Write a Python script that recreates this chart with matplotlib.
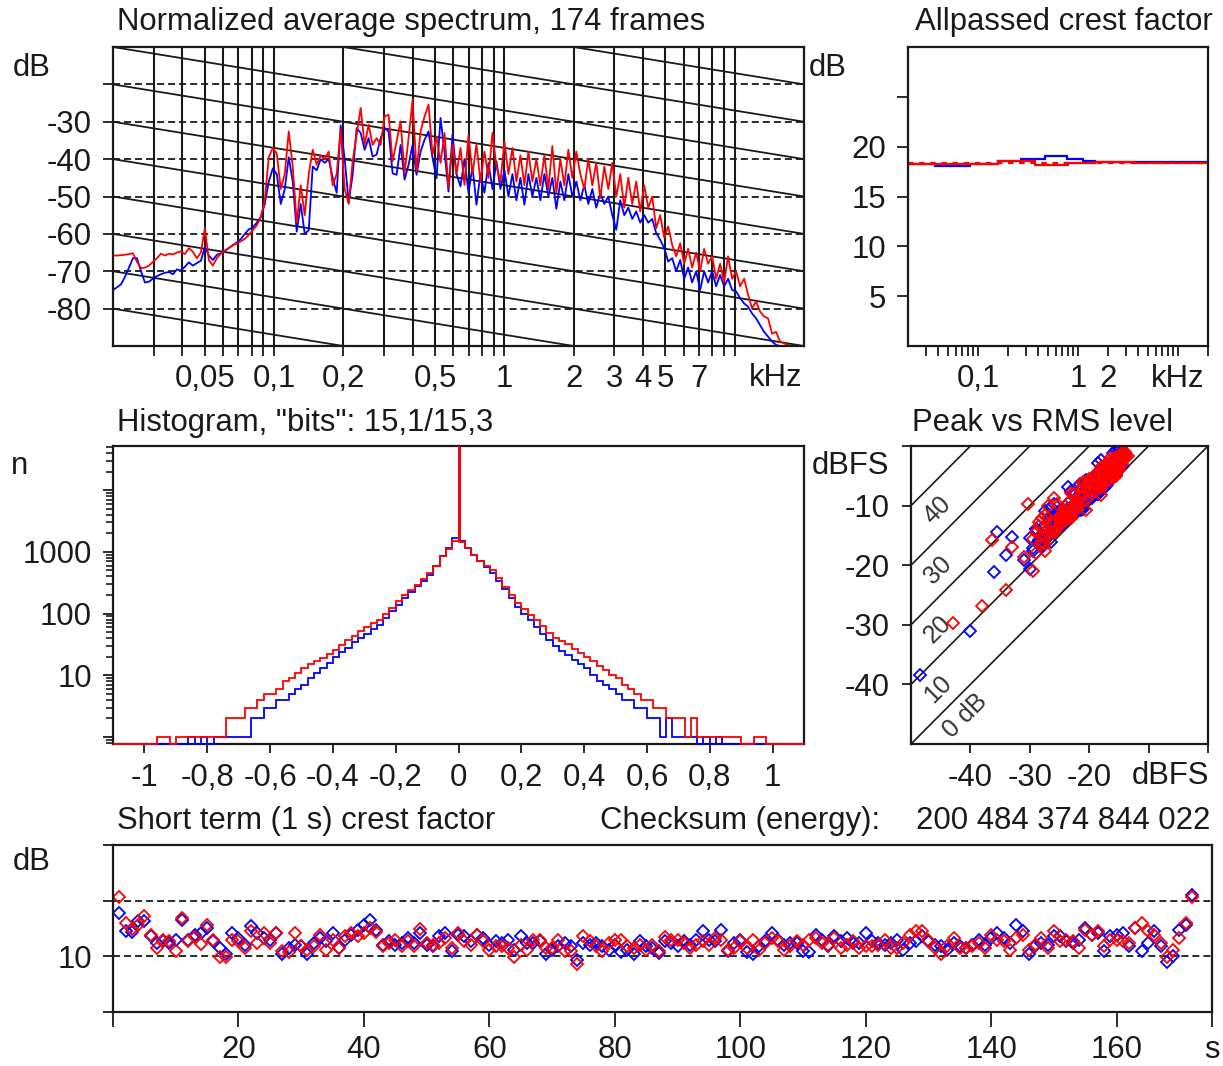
import numpy as np
import matplotlib
matplotlib.use("Agg")
import matplotlib.pyplot as plt
from matplotlib.ticker import FixedLocator, FixedFormatter, NullLocator, NullFormatter, LogLocator

# ---------------- data ----------------
# Normalized average spectrum (dB), log-spaced frequency bins 20 Hz .. 20 kHz
spec_red = [
    -65.8, -65.8, -65.7, -65.6, -65.4, -65.2, -67.5, -69.2, -69, -68.5,
    -67.5, -66.5, -65.3, -65.8, -65.3, -65.5, -65, -64.7, -65.4, -63.8,
    -64.8, -66.5, -65, -58.5, -67, -68.5, -66.5, -65.3, -64.5, -63.8,
    -63, -62.6, -62, -61.3, -60.3, -59, -57.7, -55.5, -51, -39.5,
    -37, -38.5, -48, -44, -32.6, -42, -57, -47, -55, -44,
    -37.5, -41.5, -39, -40, -38, -47, -44, -32, -48, -52,
    -40.6, -33.4, -26.3, -36.2, -30.8, -36.2, -34.4, -36.2, -28.6, -28.1,
    -40.6, -35.3, -29.9, -43.8, -34.4, -24.1, -43.3, -32.6, -28.6, -25.4,
    -38.8, -34, -41, -33, -47.8, -36, -44, -37, -46.9, -33.5,
    -44, -36, -46, -38, -45, -33, -42, -46, -35.3, -44,
    -37, -46, -39, -47, -38, -46, -40, -47, -39, -48,
    -36.5, -49, -40, -47, -37.5, -45, -38, -44, -48, -40,
    -47, -41, -50.4, -42, -48, -41, -50, -44, -53, -45,
    -52, -46, -54, -47, -53, -50, -58.5, -55, -61, -58,
    -63, -66, -62.5, -68, -64, -69, -65, -70, -64, -68,
    -66, -72, -68, -73, -66, -72, -70, -74, -72, -76.3,
    -79.9, -78.1, -80.8, -82.1, -82.6, -86.7, -86.2, -88.8, -89.3, -89.7,
    -90, -90, -90, -90,
]
spec_blue = [
    -75, -74.3, -73.5, -71.5, -69, -66.5, -66.5, -70, -73, -72.8,
    -72, -71.3, -70.8, -70.4, -70.2, -70.8, -69.5, -69.8, -68.8, -67.6,
    -68.5, -67.8, -67.2, -63.5, -65.8, -67, -65.6, -65.2, -64.5, -63.8,
    -63, -62.3, -61.4, -60, -58.8, -58.3, -57, -55.5, -52, -46,
    -42.5, -44, -52, -48, -39.5, -46, -59.4, -52, -60, -59,
    -42, -43, -40, -41, -40, -45, -49, -31, -40, -51.5,
    -44.2, -31.7, -33, -37.5, -34.4, -39.3, -38.8, -34.4, -31.7, -32.6,
    -43.8, -44.2, -36.2, -45.5, -41.5, -36.2, -44.2, -38, -34.8, -32.6,
    -39.7, -45.1, -29, -38, -48.7, -33.5, -44, -47.3, -40, -49,
    -42, -52.2, -44, -49, -41, -48, -40.6, -48, -43, -50,
    -44, -51, -45, -52.2, -44, -50, -45, -51, -44, -50,
    -45, -53.3, -46, -51, -44, -50, -46, -51, -47, -52,
    -48, -53, -49, -52, -50, -55, -58.9, -51, -55, -53,
    -56, -54, -57, -55, -57, -56, -59.8, -61.6, -63.8, -67.4,
    -66.5, -70, -67, -72, -69, -73, -70, -75, -70, -73,
    -70, -74, -71, -74, -72, -75, -75.4, -77.2, -78.6, -79.5,
    -81.3, -82.6, -84.4, -86.2, -87.5, -88.8, -89.7, -90, -90, -90,
    -90, -90, -90, -90,
]
spec_grid_khz = [0.03, 0.04, 0.05, 0.06, 0.07, 0.08, 0.09,
                 0.1, 0.2, 0.3, 0.4, 0.5, 0.6, 0.7, 0.8, 0.9,
                 1, 2, 3, 4, 5, 6, 7, 8, 9, 10]
spec_grid_labels = ['', '', '0,05', '', '', '', '',
                    '0,1', '0,2', '', '', '0,5', '', '', '', '',
                    '1', '2', '3', '4', '5', '', '7', '', '', '']
spec_ytick_vals = [-80, -70, -60, -50, -40, -30, -20]
spec_ytick_labels = ['-80', '-70', '-60', '-50', '-40', '-30', '']
spec_slope_refs = [-80, -70, -60, -50, -40, -30, -20, -10, 0, 10, 20]

# Allpassed crest factor (dB), per band
ap_blue_edges = [0.02, 0.037, 0.083, 0.16, 0.27, 0.47, 0.77, 1.13, 1.48, 20]
ap_blue_vals = [18.3, 18.1, 18.3, 18.6, 18.8, 19.05, 18.8, 18.6, 18.45]
ap_red_edges = [0.02, 0.16, 0.37, 0.8, 1.48, 3.6, 20]
ap_red_vals = [18.25, 18.55, 18.15, 18.4, 18.5, 18.4]
ap_red_total = 18.4
ap_major_khz = [0.1, 1, 2, 10]
ap_major_labels = ['0,1', '1', '2', 'kHz']
ap_minor_khz = [0.03, 0.04, 0.05, 0.06, 0.07, 0.08, 0.09,
                0.2, 0.3, 0.4, 0.5, 0.6, 0.7, 0.8, 0.9,
                3, 4, 5, 6, 7, 8, 9, 20]
ap_ytick_vals = [5, 10, 15, 20, 25]
ap_ytick_labels = ['5', '10', '15', '20', '']

# Sample-value histogram, 110 bins from -1.1 to 1.1
hist_red = [
    0, 0, 0, 0, 0, 0, 0, 1, 1, 0,
    1, 1, 1, 1, 1, 1, 1, 1, 2, 2,
    2, 3, 3, 4, 5, 5, 6, 8, 9, 11,
    13, 15, 17, 19, 22, 26, 31, 37, 44, 52,
    60, 70, 80, 97, 125, 160, 200, 240, 290, 360,
    450, 600, 850, 1100, 1500,
    1450, 1150, 900, 720, 600, 500, 380, 270, 200, 150,
    120, 95, 80, 62, 48, 40, 36, 32, 27, 23,
    20, 17, 14, 12, 10, 9, 7, 6, 5, 4,
    4, 3, 3, 2, 2, 2, 1, 2, 1, 1,
    1, 1, 1, 1, 1, 0, 0, 1, 1, 0,
    0, 0, 0, 0, 0,
]
hist_blue = [
    0, 0, 0, 0, 0, 0, 0, 0, 0, 0,
    0, 0, 1, 0, 1, 0, 1, 1, 1, 1,
    1, 1, 2, 2, 3, 3, 4, 4, 5, 6,
    7, 9, 11, 13, 16, 20, 24, 28, 34, 40,
    47, 56, 66, 85, 110, 140, 180, 220, 280, 340,
    430, 580, 850, 1150, 1650,
    1500, 1150, 880, 700, 560, 450, 340, 250, 180, 130,
    100, 80, 60, 47, 37, 30, 25, 21, 18, 15,
    13, 10, 8, 7, 6, 5, 4, 4, 3, 3,
    2, 2, 1, 2, 1, 1, 1, 1, 0, 1,
    0, 1, 0, 0, 0, 0, 0, 0, 0, 0,
    0, 0, 0, 0, 0,
]
hist_zero_red = 80000
hist_zero_blue = 80000
hist_xtick_vals = [-1, -0.8, -0.6, -0.4, -0.2, 0, 0.2, 0.4, 0.6, 0.8, 1]
hist_xtick_labels = ['-1', '-0,8', '-0,6', '-0,4', '-0,2', '0', '0,2', '0,4', '0,6', '0,8', '1']
hist_ytick_vals = [1, 10, 100, 1000, 10000]
hist_ytick_labels = ['', '10', '100', '1000', '']

# Short term (1 s) crest factor (dB) and RMS level (dBFS) per second
crest_red = [
    20.6, 16, 14.9, 15.7, 17.2, 13.9, 11.5, 13, 12.7, 11,
    16.9, 12.7, 13.5, 12.3, 15.7, 13, 9.8, 9.8, 13, 12.7,
    11.5, 14.5, 12.4, 14.2, 12.4, 14.2, 11, 10.7, 14.2, 11.8,
    11.2, 11.8, 13.9, 11.2, 13, 11.5, 13.6, 14.2, 13.6, 14.2,
    15.1, 14.3, 11.8, 12.4, 13, 11.8, 12.7, 11.8, 14.9, 12.4,
    12.1, 12.4, 13.3, 11.5, 14.2, 12.7, 12.1, 13.9, 12.7, 11.2,
    11.8, 11.8, 11.5, 9.8, 12.1, 11.2, 13, 13, 11.5, 11.5,
    13, 11, 11, 8.6, 13.6, 12.7, 11.8, 11, 12.4, 13,
    13, 11.8, 11.5, 12.1, 11.2, 12.1, 10.9, 13.5, 13, 13,
    12.4, 11.5, 12.1, 12.7, 12.1, 13.3, 13, 11.2, 11.5, 12.7,
    11.5, 13, 11.2, 12.4, 13.3, 12.7, 11.2, 11.8, 12.7, 12.1,
    13, 13.3, 12.4, 12.1, 13.3, 11.5, 12.1, 12.7, 11.5, 11.8,
    11.8, 12.1, 13, 11.5, 11.5, 12.4, 13.9, 14.5, 14.5, 13,
    11.5, 10.5, 11.8, 13.3, 11.5, 11.5, 11.8, 12.4, 11.5, 13.9,
    13, 12.7, 11.2, 13.3, 13.9, 11.2, 12.1, 13.3, 11.5, 14.5,
    12.7, 13, 12.7, 11.5, 14.8, 13.9, 14.5, 11.8, 13, 13,
    12.7, 12.4, 15.1, 16, 14.5, 13.9, 12.4, 9.8, 11.2, 13.3,
    16, 20.6,
]
crest_blue = [
    17.8, 14.5, 14.3, 16.3, 16.3, 13.6, 12.4, 12.7, 12.4, 13,
    16.6, 13, 13.9, 14.2, 15.1, 12.7, 11.5, 10.4, 14.2, 13.3,
    12.1, 15.4, 14.2, 13.3, 13, 14.2, 10.4, 11.5, 12.1, 11.8,
    10.4, 12.4, 13.3, 12.7, 14.2, 11.5, 13, 13.9, 14.8, 15.7,
    16.6, 14.8, 12.1, 12.7, 12.1, 12.4, 13.3, 12.4, 14.2, 12.1,
    11.8, 13.6, 14.2, 11, 13.9, 13.6, 12.7, 13.9, 13.3, 12.1,
    12.7, 12.4, 13, 11.2, 13.6, 12.4, 12.4, 12.7, 10.4, 11.2,
    11.8, 12.4, 11.8, 9.4, 12.4, 12.1, 12.4, 11.8, 11.2, 12.1,
    10.7, 11.2, 10.4, 12.7, 11.8, 11.5, 10.6, 12.7, 12.4, 11.8,
    12.7, 12.1, 13, 14.5, 13, 12.7, 14.8, 11, 12.4, 13,
    10.7, 10.4, 11.8, 12.7, 14.2, 13, 12.1, 12.4, 12.4, 11,
    10.7, 13.9, 13, 11.8, 13.6, 12.7, 13.3, 12.4, 12.4, 14.2,
    12.7, 12.4, 12.1, 12.4, 13, 11.2, 12.4, 12.7, 13.6, 12.7,
    12.1, 11.8, 11.2, 12.4, 11.8, 11.5, 12.1, 13, 12.1, 13.3,
    14.2, 13.3, 12.4, 15.7, 14.5, 10.4, 11.8, 12.4, 12.1, 13.6,
    13.6, 12.7, 12.4, 13, 15.1, 13.9, 14.2, 11, 13.6, 13.9,
    14.2, 11.8, 15.1, 11, 12.4, 14.5, 11.8, 8.9, 10, 14.8,
    15.7, 21,
]
rms_red = [
    -36.3, -28, -27, -25.5, -26, -24, -23, -24.5, -22, -23,
    -27, -21, -20, -22, -28.5, -19, -20.5, -18, -21, -19.5,
    -18, -22.5, -17, -20, -16.5, -19, -18, -16, -21, -18.5,
    -17, -15.5, -20, -16.5, -18, -15, -19, -17, -15.5, -17.5,
    -23, -20, -16.5, -15, -14, -16, -15, -13.5, -21, -16.5,
    -15.5, -18, -14.5, -15, -19, -16.5, -15, -17.5, -14, -16,
    -22, -24, -26, -27.5, -25, -23, -27, -28, -26, -24,
    -25, -27.5, -29, -29.5, -26.5, -24, -22, -23, -20, -21,
    -19, -18, -20.5, -17, -16, -18, -15, -17, -15.5, -19,
    -18, -16, -17, -14.5, -16, -18, -15, -16.5, -19, -15.5,
    -18, -17, -15, -16, -20, -19, -17, -15.5, -18, -14,
    -22, -25, -23, -26.5, -24, -25.5, -27.5, -24.5, -28, -26,
    -23, -24, -21, -22, -20, -19, -21, -18, -16.5, -19,
    -17, -15.5, -18, -14.5, -16.5, -15.5, -18, -16.5, -14.5, -16,
    -19, -17, -15.5, -18, -20, -16.5, -14.5, -15, -17.5, -14,
    -16.5, -15, -17.5, -19, -21, -23, -20, -22, -24, -26,
    -25, -27, -28.5, -27.5, -29, -29.5, -31, -34, -38, -43,
    -33, -30.3,
]
rms_blue = [
    -33, -29, -27.5, -26, -26.5, -24.5, -23.5, -25, -22.5, -23.5,
    -27.5, -21.5, -20.5, -22.5, -29, -19.5, -21, -18.5, -21.5, -20,
    -18.5, -23, -17.5, -20.5, -17, -19.5, -18.5, -16.5, -21.5, -19,
    -17.5, -16, -20.5, -17, -18.5, -15.5, -19.5, -17.5, -16, -18,
    -23.5, -20.5, -17, -15.5, -14.5, -16.5, -15.5, -14, -21.5, -17,
    -16, -18.5, -15, -15.5, -19.5, -17, -15.5, -18, -14.5, -16.5,
    -22.5, -24.5, -26.5, -28, -25.5, -23.5, -27.5, -28.5, -26.5, -24.5,
    -25.5, -28, -29.5, -30, -27, -24.5, -22.5, -23.5, -20.5, -21.5,
    -19.5, -18.5, -21, -17.5, -16.5, -18.5, -15.5, -17.5, -16, -19.5,
    -18.5, -16.5, -17.5, -15, -16.5, -18.5, -15.5, -17, -19.5, -16,
    -18.5, -17.5, -15.5, -16.5, -20.5, -19.5, -17.5, -16, -18.5, -14.5,
    -21.4, -25.5, -23.5, -27, -24.5, -26, -28, -25, -28.5, -26.5,
    -23.5, -24.5, -21.5, -22.5, -20.5, -19.5, -21.5, -18.5, -17, -19.5,
    -17.5, -16, -18.5, -15, -17, -16, -18.5, -17, -15, -16.5,
    -19.5, -17.5, -16, -18.5, -20.5, -17, -15, -15.5, -18, -14.5,
    -17, -15.5, -18, -19.5, -21.5, -23.5, -20.5, -22.5, -24.5, -26.5,
    -25.5, -27.5, -29, -28, -29.5, -30, -31, -40, -48.5, -36,
    -34, -35.5,
]
st_xtick_vals = [0, 20, 40, 60, 80, 100, 120, 140, 160, 175.2]
st_xtick_labels = ['', '20', '40', '60', '80', '100', '120', '140', '160', 's']
st_ytick_vals = [0, 10, 20, 30]
st_ytick_labels = ['', '10', '', '']
st_dashed = [10, 20]

pr_offsets = [0, 10, 20, 30, 40]
pr_offset_labels = ['0 dB', '10', '20', '30', '40']
pr_tick_vals = [-40, -30, -20, -10, 0]
pr_xtick_labels = ['-40', '-30', '-20', '', '']
pr_ytick_labels = ['-40', '-30', '-20', '-10', '']

checksum = '200 484 374 844 022'

# ---------------- styling ----------------
RED = '#ff0000'
BLUE = '#0000ff'
INK = '#1a1a1a'
plt.rcParams['font.family'] = ['Liberation Sans', 'DejaVu Sans']
FS = 22.4
W, H = 1223, 1066
P = 0.72  # points per pixel at 100 dpi
fig = plt.figure(figsize=(W / 100, H / 100), dpi=100)


def axes_px(l, t, r, b):
    return fig.add_axes([l / W, 1 - b / H, (r - l) / W, (b - t) / H])


def label_px(x, y, s, ha='left', va='center', **kw):
    fig.text(x / W, 1 - y / H, s, ha=ha, va=va, fontsize=FS, color=INK, **kw)


def style(ax, xlen=10, ylen=10, xpad=8, ypad=11):
    ax.tick_params(axis='x', which='both', direction='out', length=xlen * P, width=1.3,
                   pad=xpad * P, labelsize=FS, labelcolor=INK, color=INK)
    ax.tick_params(axis='y', which='both', direction='out', length=ylen * P, width=1.3,
                   pad=ypad * P, labelsize=FS, labelcolor=INK, color=INK)
    for s in ax.spines.values():
        s.set_color(INK)
        s.set_linewidth(1.6)
        s.set_zorder(5)


DASH = (0, (3.9, 2.2))

# ---------------- spectrum ----------------
ax1 = axes_px(113, 47, 804, 346)
ax1.set_xscale('log')
ax1.set_xlim(0.02, 20)
ax1.set_ylim(-90, -10)
for f in spec_grid_khz:
    ax1.axvline(f, color=INK, lw=1.5, zorder=1)
for yv in spec_ytick_vals:
    ax1.axhline(yv, color=INK, lw=1.3, ls=DASH, zorder=1)
for c in spec_slope_refs:
    ax1.plot([0.02, 20], [c, c - 30], color=INK, lw=1.3, zorder=1)
f_blue = np.geomspace(0.02, 20, len(spec_blue))
f_red = np.geomspace(0.02, 20, len(spec_red))
ax1.plot(f_blue, spec_blue, color=BLUE, lw=1.3, zorder=3)
ax1.plot(f_red, spec_red, color=RED, lw=1.3, zorder=4)
ax1.xaxis.set_major_locator(FixedLocator(spec_grid_khz))
ax1.xaxis.set_major_formatter(FixedFormatter(spec_grid_labels))
ax1.xaxis.set_minor_locator(NullLocator())
ax1.yaxis.set_major_locator(FixedLocator(spec_ytick_vals))
ax1.yaxis.set_major_formatter(FixedFormatter(spec_ytick_labels))
style(ax1, xlen=10, ylen=10, xpad=8, ypad=11)
label_px(117, 22, 'Normalized average spectrum, 174 frames')
label_px(32, 68, 'dB', ha='center')
label_px(776, 378, 'kHz', ha='center')

# ---------------- allpassed crest factor ----------------
ax2 = axes_px(908, 47, 1208, 346)
ax2.set_xscale('log')
ax2.set_xlim(0.02, 20)
ax2.set_ylim(0, 30)
ax2.stairs(ap_blue_vals, ap_blue_edges, baseline=None, color=BLUE, lw=1.6, zorder=3)
ax2.stairs(ap_red_vals, ap_red_edges, baseline=None, color=RED, lw=1.6, zorder=4)
ax2.axhline(ap_red_total, color=RED, lw=1.6, ls=(0, (2.5, 2.5)), zorder=4)
ax2.xaxis.set_major_locator(FixedLocator(ap_major_khz))
ax2.xaxis.set_major_formatter(FixedFormatter(ap_major_labels))
ax2.xaxis.set_minor_locator(FixedLocator(ap_minor_khz))
ax2.xaxis.set_minor_formatter(NullFormatter())
ax2.yaxis.set_major_locator(FixedLocator(ap_ytick_vals))
ax2.yaxis.set_major_formatter(FixedFormatter(ap_ytick_labels))
style(ax2, xlen=10, ylen=11, xpad=8, ypad=11)
label_px(1213, 22, 'Allpassed crest factor', ha='right')
label_px(828, 68, 'dB', ha='center')

# ---------------- histogram ----------------
ax3 = axes_px(113, 446, 804, 744)
ax3.set_yscale('log')
YMIN = 0.77
ax3.set_ylim(YMIN, 52000)
ax3.set_xlim(-1.1, 1.1)
e_blue = np.linspace(-1.1, 1.1, len(hist_blue) + 1)
e_red = np.linspace(-1.1, 1.1, len(hist_red) + 1)
ax3.stairs(np.maximum(hist_blue, YMIN), e_blue, baseline=None, color=BLUE, lw=1.3,
           zorder=6, clip_on=False)
ax3.stairs(np.maximum(hist_red, YMIN), e_red, baseline=None, color=RED, lw=1.3,
           zorder=7, clip_on=False)
ax3.vlines(0, max(hist_blue), hist_zero_blue, color=BLUE, lw=2.0, zorder=6)
ax3.vlines(0, max(hist_red), hist_zero_red, color=RED, lw=2.0, zorder=7)
ax3.xaxis.set_major_locator(FixedLocator(hist_xtick_vals))
ax3.xaxis.set_major_formatter(FixedFormatter(hist_xtick_labels))
ax3.yaxis.set_major_locator(FixedLocator(hist_ytick_vals))
ax3.yaxis.set_major_formatter(FixedFormatter(hist_ytick_labels))
ax3.yaxis.set_minor_locator(LogLocator(base=10, subs=(2, 3, 4, 5, 6, 7, 8, 9), numticks=20))
ax3.yaxis.set_minor_formatter(NullFormatter())
style(ax3, xlen=9, ylen=10, xpad=10, ypad=11)
ax3.tick_params(axis='y', which='minor', length=7 * P, width=1.2)
label_px(117, 423, 'Histogram, "bits": 15,1/15,3')
label_px(20, 466, 'n', ha='center')

# ---------------- peak vs RMS ----------------
ax4 = axes_px(911, 446, 1208, 744)
ax4.set_xlim(-50, 0)
ax4.set_ylim(-50, 0)
for c in pr_offsets:
    ax4.plot([-50, -c], [-50 + c, 0], color=INK, lw=1.2, zorder=1)
for c, lab in zip(pr_offsets, pr_offset_labels):
    if c == 0:
        ax4.text(-40.8, -45.2, lab, rotation=45, ha='center', va='center', fontsize=18, color='#333333')
    else:
        ax4.text(-45.5, -50 + c - 0.8, lab, rotation=45, ha='center', va='center', fontsize=18, color='#333333')
n_b = min(len(rms_blue), len(crest_blue))
n_r = min(len(rms_red), len(crest_red))
peak_blue = np.array(rms_blue[:n_b]) + np.array(crest_blue[:n_b])
peak_red = np.array(rms_red[:n_r]) + np.array(crest_red[:n_r])
ax4.plot(rms_blue[:n_b], peak_blue, ls='none', marker='D', ms=6.2, mfc='none', mec=BLUE, mew=1.3, zorder=3)
ax4.plot(rms_red[:n_r], peak_red, ls='none', marker='D', ms=6.2, mfc='none', mec=RED, mew=1.3, zorder=4)
ax4.xaxis.set_major_locator(FixedLocator(pr_tick_vals))
ax4.xaxis.set_major_formatter(FixedFormatter(pr_xtick_labels))
ax4.yaxis.set_major_locator(FixedLocator(pr_tick_vals))
ax4.yaxis.set_major_formatter(FixedFormatter(pr_ytick_labels))
style(ax4, xlen=9, ylen=9, xpad=10, ypad=12)
label_px(912, 423, 'Peak vs RMS level')
label_px(850, 466, 'dBFS', ha='center')
label_px(1170, 776, 'dBFS', ha='center')

# ---------------- short term crest factor ----------------
ax5 = axes_px(113, 845, 1212, 1012)
ax5.set_xlim(0, 175.2)
ax5.set_ylim(0, 30)
for yv in st_dashed:
    ax5.axhline(yv, color=INK, lw=1.3, ls=DASH, zorder=1)
t_blue = np.arange(1, len(crest_blue) + 1)
t_red = np.arange(1, len(crest_red) + 1)
ax5.plot(t_blue, crest_blue, ls='none', marker='D', ms=6.2, mfc='none', mec=BLUE, mew=1.3, zorder=3)
ax5.plot(t_red, crest_red, ls='none', marker='D', ms=6.2, mfc='none', mec=RED, mew=1.3, zorder=4)
ax5.xaxis.set_major_locator(FixedLocator(st_xtick_vals))
ax5.xaxis.set_major_formatter(FixedFormatter(st_xtick_labels))
ax5.yaxis.set_major_locator(FixedLocator(st_ytick_vals))
ax5.yaxis.set_major_formatter(FixedFormatter(st_ytick_labels))
style(ax5, xlen=15, ylen=10, xpad=8, ypad=11)
label_px(117, 821, 'Short term (1 s) crest factor')
label_px(600, 821, 'Checksum (energy):')
label_px(1210, 821, checksum, ha='right')
label_px(32, 862, 'dB', ha='center')

fig.savefig('out.png', dpi=100)
